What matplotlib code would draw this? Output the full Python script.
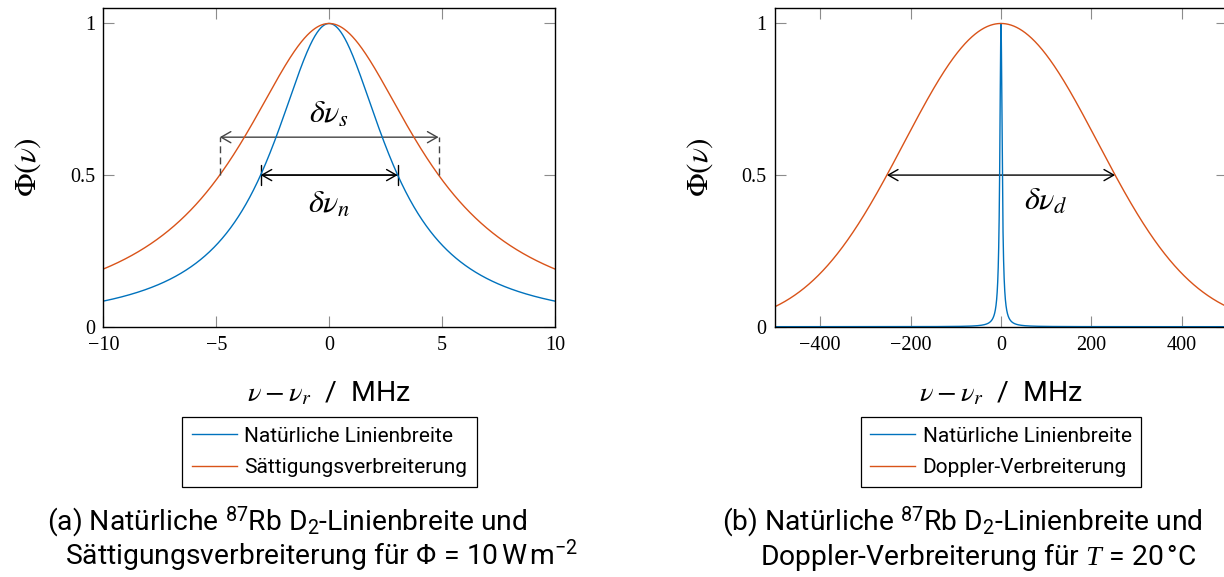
import numpy as np
import matplotlib
matplotlib.use("Agg")
import matplotlib.pyplot as plt
from matplotlib.patches import FancyArrowPatch

# Linienbreiten (FWHM) in MHz
natural_fwhm = 6.07
saturated_fwhm = 9.69
doppler_fwhm = 505.0

# Achsen
xlim_a = (-10, 10)
xlim_b = (-500, 500)
xticks_a = [-10, -5, 0, 5, 10]
xticks_b = [-400, -200, 0, 200, 400]
yticks = [0, 0.5, 1]
ytick_labels = ["0", "0.5", "1"]

# Hoehe des Pfeils fuer die gesaettigte Linienbreite
sat_arrow_y = 0.625

labels_a = ["Natürliche Linienbreite", "Sättigungsverbreiterung"]
labels_b = ["Natürliche Linienbreite", "Doppler-Verbreiterung"]
caption_a = ["(a) Natürliche $^{87}$Rb D$_{2}$-Linienbreite und",
             r"Sättigungsverbreiterung für $\Phi\,=\,10\,\mathrm{W\,m^{-2}}$"]
caption_b = ["(b) Natürliche $^{87}$Rb D$_{2}$-Linienbreite und",
             r"Doppler-Verbreiterung für $T\,=\,20\,$°C"]

blue = "#0072BD"
orange = "#D95319"

plt.rcParams["mathtext.fontset"] = "custom"
plt.rcParams["mathtext.rm"] = "Roboto"
plt.rcParams["mathtext.it"] = "Liberation Serif:italic"
plt.rcParams["mathtext.bf"] = "Roboto:bold"


def lorentz(x, fwhm):
    return 1.0 / (1.0 + (2.0 * x / fwhm) ** 2)


def gauss(x, fwhm):
    return np.exp(-4.0 * np.log(2.0) * (x / fwhm) ** 2)


def style_axes(ax, xlim, xticks):
    ax.set_xlim(*xlim)
    ax.set_ylim(0, 1.05)
    ax.set_xticks(xticks, labels=[str(t).replace("-", "\u2212") for t in xticks])
    ax.set_yticks(yticks, labels=ytick_labels)
    ax.tick_params(direction="in", top=True, right=True, length=8, width=0.8,
                   color="#8c8c8c", labelsize=14.5)
    ax.tick_params(axis="x", pad=7)
    ax.tick_params(axis="y", pad=6)
    for lab in ax.get_xticklabels() + ax.get_yticklabels():
        lab.set_fontfamily("Liberation Serif")
    for sp in ax.spines.values():
        sp.set_linewidth(1.0)
    ax.set_ylabel(r"$\Phi(\nu)$", fontsize=22.5, math_fontfamily="stix")
    ax.set_xlabel(r"$\nu - \nu_r$  /  MHz", fontsize=20.5, fontfamily="Roboto",
                  math_fontfamily="stix")
    ax.xaxis.label.set_va("baseline")
    ax.xaxis.set_label_coords(0.5, -0.2356)


def arrow(ax, x0, x1, y, style, color, **kw):
    p = FancyArrowPatch((x0, y), (x1, y), arrowstyle=style, color=color,
                        lw=1.0, shrinkA=0, shrinkB=0, mutation_scale=1, **kw)
    ax.add_patch(p)


fig = plt.figure(figsize=(12.24, 5.77), dpi=100)
ax_a = fig.add_axes([103.3 / 1224, 0.4338, 451.7 / 1224, 0.5518])
ax_b = fig.add_axes([775 / 1224, 0.4338, 452 / 1224, 0.5518])

# (a) natuerliche Linienbreite und Saettigungsverbreiterung
x_a = np.linspace(xlim_a[0], xlim_a[1], 1201)
ax_a.plot(x_a, lorentz(x_a, natural_fwhm), color=blue, lw=1.0, label=labels_a[0])
ax_a.plot(x_a, lorentz(x_a, saturated_fwhm), color=orange, lw=1.0, label=labels_a[1])
style_axes(ax_a, xlim_a, xticks_a)
ax_a.yaxis.set_label_coords((43 - 103.3) / 451.7, 0.5)

hs = saturated_fwhm / 2
hn = natural_fwhm / 2
arrow(ax_a, -hs, hs, sat_arrow_y, "<->,head_length=7,head_width=4", "#444444")
ax_a.vlines([-hs, hs], 0.5, sat_arrow_y, colors="#444444", linestyles=(0, (5, 3)), lw=1.0)
arrow(ax_a, -hn, hn, 0.5, "<->,head_length=7,head_width=4", "black")
arrow(ax_a, -hn, hn, 0.5, "|-|,widthA=7,widthB=7", "black")
ax_a.text(0, 0.70, r"$\delta\nu_s$", fontsize=23, ha="center", va="center",
          math_fontfamily="stix")
ax_a.text(0, 0.405, r"$\delta\nu_n$", fontsize=23, ha="center", va="center",
          math_fontfamily="stix")

# (b) natuerliche Linienbreite und Doppler-Verbreiterung
x_b = np.linspace(xlim_b[0], xlim_b[1], 40001)
ax_b.plot(x_b, lorentz(x_b, natural_fwhm), color=blue, lw=1.0, label=labels_b[0])
ax_b.plot(x_b, gauss(x_b, doppler_fwhm), color=orange, lw=1.0, label=labels_b[1])
style_axes(ax_b, xlim_b, xticks_b)
ax_b.yaxis.set_label_coords((715 - 775) / 452, 0.5)

hd = doppler_fwhm / 2
arrow(ax_b, -hd, hd, 0.5, "<->,head_length=7,head_width=4", "black")
ax_b.text(100, 0.415, r"$\delta\nu_d$", fontsize=23, ha="center", va="center",
          math_fontfamily="stix")

for ax in (ax_a, ax_b):
    leg = ax.legend(loc="upper center", bbox_to_anchor=(0.5, (326.7 - 417) / 318.4),
                    borderaxespad=0, fancybox=False, framealpha=1, edgecolor="black",
                    prop={"family": "Roboto", "size": 15}, handlelength=2.16,
                    handletextpad=0.35, labelspacing=0.6, borderpad=0.47)
    leg.get_frame().set_linewidth(0.9)

# Bildunterschriften
cap_kw = dict(fontsize=20.3, fontfamily="Roboto", math_fontfamily="custom", va="baseline")
fig.text(47 / 1224, 1 - 530 / 577, caption_a[0], **cap_kw)
fig.text(65 / 1224, 1 - 565 / 577, caption_a[1], **cap_kw)
fig.text(722 / 1224, 1 - 530 / 577, caption_b[0], **cap_kw)
fig.text(760 / 1224, 1 - 565 / 577, caption_b[1], **cap_kw)

fig.savefig("out.png", dpi=100)
